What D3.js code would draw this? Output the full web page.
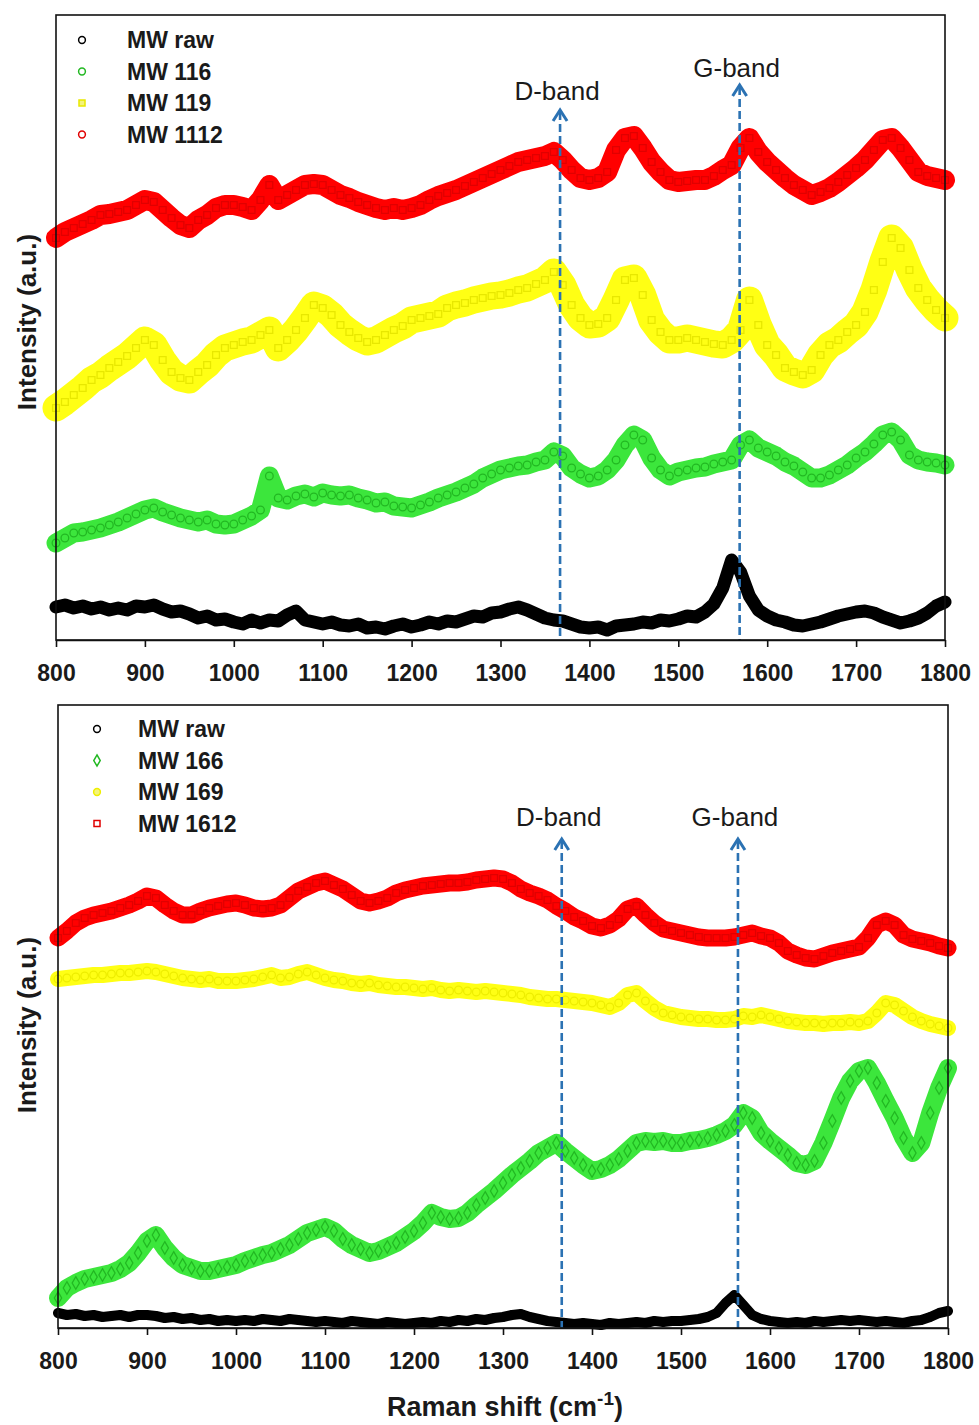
<!DOCTYPE html>
<html>
<head>
<meta charset="utf-8">
<script src="https://cdn.jsdelivr.net/npm/d3@7"></script>
<style>
  html, body { margin: 0; padding: 0; background: #fff; }
  svg { display: block; }
  text { font-family: "Liberation Sans", Arial, sans-serif; }
</style>
</head>
<body>
<svg id="chart" width="979" height="1425"></svg>
<script>
// Raman shift sampling grid (cm-1)
const ramanShift = [
  800, 810, 820, 830, 840, 850, 860, 870, 880, 890,
  900, 910, 920, 930, 940, 950, 960, 970, 980, 990,
  1000, 1010, 1020, 1030, 1040, 1050, 1060, 1070, 1080, 1090,
  1100, 1110, 1120, 1130, 1140, 1150, 1160, 1170, 1180, 1190,
  1200, 1210, 1220, 1230, 1240, 1250, 1260, 1270, 1280, 1290,
  1300, 1310, 1320, 1330, 1340, 1350, 1360, 1370, 1380, 1390,
  1400, 1410, 1420, 1430, 1440, 1450, 1460, 1470, 1480, 1490,
  1500, 1510, 1520, 1530, 1540, 1550, 1560, 1570, 1580, 1590,
  1600, 1610, 1620, 1630, 1640, 1650, 1660, 1670, 1680, 1690,
  1700, 1710, 1720, 1730, 1740, 1750, 1760, 1770, 1780, 1790,
  1800
];

const xTicks = [800, 900, 1000, 1100, 1200, 1300, 1400, 1500, 1600, 1700, 1800];

// ---- Upper panel: 11x series (stacked intensities, a.u.) ----
const mwRawA = [
  33, 35, 32, 34, 31, 33, 30, 32, 30, 34,
  33, 35, 31, 28, 29, 26, 22, 24, 20, 21,
  18, 16, 20, 17, 20, 19, 25, 29, 20, 18,
  16, 18, 15, 14, 16, 12, 13, 11, 14, 16,
  13, 15, 18, 16, 19, 18, 21, 24, 23, 27,
  28, 31, 33, 30, 26, 22, 20, 19, 16, 13,
  12, 13, 10, 14, 15, 16, 18, 17, 20, 19,
  21, 24, 23, 28, 36, 52, 80, 68, 44, 30,
  24, 20, 18, 15, 14, 16, 18, 21, 24, 26,
  28, 29, 27, 23, 20, 17, 19, 22, 27, 34,
  38
];
const mw116 = [
  97, 102, 107, 108, 110, 112, 115, 118, 122, 126,
  130, 132, 128, 125, 122, 120, 118, 120, 116, 115,
  116, 120, 124, 130, 164, 142, 140, 144, 146, 143,
  147, 145, 144, 145, 142, 140, 137, 138, 134, 133,
  132, 135, 138, 142, 145, 148, 152, 156, 162, 166,
  170, 172, 174, 175, 178, 180, 188, 184, 172, 166,
  162, 164, 170, 180, 195, 205, 200, 182, 170, 164,
  168, 170, 172, 173, 176, 178, 180, 195, 200, 192,
  188, 184, 178, 174, 168, 162, 162, 165, 170, 175,
  182, 188, 196, 205, 208, 200, 185, 180, 178, 177,
  175
];
const mw119 = [
  232, 238, 245, 252, 260, 265, 272, 278, 284, 292,
  300, 295, 280, 268, 262, 260, 268, 275, 285, 292,
  295, 298, 300, 305, 310, 292, 300, 310, 322, 335,
  332, 325, 315, 308, 302, 298, 300, 305, 310, 314,
  320, 322, 324, 326, 332, 335, 337, 340, 342, 344,
  345, 347, 350, 352, 356, 360, 368, 355, 335, 322,
  315, 316, 322, 340, 360, 362, 345, 320, 308, 300,
  300, 302, 300, 298, 296, 295, 300, 310, 340, 315,
  295, 285, 272, 268, 265, 270, 285, 295, 300, 308,
  315, 328, 350, 378, 402, 392, 370, 352, 340, 330,
  322
];
const mw1112 = [
  402, 408, 412, 416, 420, 425, 426, 428, 430, 435,
  440, 438, 430, 422, 415, 412, 420, 425, 432, 435,
  435, 433, 430, 440, 455, 440, 445, 450, 455, 456,
  455, 450, 445, 442, 438, 435, 432, 430, 432, 430,
  432, 435, 440, 444, 447, 450, 454, 458, 462, 466,
  470, 474, 478, 480, 482, 484, 488, 480, 470, 462,
  460, 462, 468, 490, 502, 504, 492, 478, 468, 460,
  458, 459, 460, 460, 464, 470, 475, 492, 502, 488,
  478, 470, 462, 455, 450, 445, 448, 452, 458, 465,
  472, 480, 490, 500, 502, 492, 480, 468, 464, 462,
  460
];

// ---- Lower panel: 16x series ----
const mwRawB = [
  15, 13, 14, 12, 13, 11, 12, 13, 11, 13,
  13, 12, 10, 11, 9, 10, 8, 9, 7, 8,
  7, 8, 7, 9, 8, 7, 9, 8, 7, 6,
  7, 6, 5, 7, 6, 5, 4, 6, 5, 4,
  5, 6, 5, 7, 6, 8, 7, 9, 8, 10,
  11, 13, 14, 11, 9, 7, 6, 5, 4, 5,
  4, 3, 5, 4, 5, 6, 5, 7, 6, 7,
  7, 8, 9, 11, 15, 25, 33, 23, 13, 9,
  7, 6, 5, 6, 5, 7, 6, 7, 8, 7,
  8, 7, 6, 7, 6, 5, 7, 8, 11, 15,
  17
];
const mw166 = [
  30, 40, 45, 49, 51, 53, 55, 59, 65, 75,
  87, 93, 80, 70, 63, 60, 57, 57, 59, 61,
  63, 67, 70, 73, 75, 79, 83, 89, 95, 98,
  101, 97, 89, 83, 79, 75, 77, 81, 85, 91,
  97, 105, 115, 111, 109, 110, 115, 123, 130, 137,
  145, 153, 160, 167, 175, 180, 185, 177, 170, 163,
  157, 159, 163, 169, 177, 185, 187, 186, 187, 185,
  185, 187, 188, 190, 193, 197, 203, 215, 210, 195,
  187, 180, 173, 165, 163, 167, 185, 207, 230, 247,
  257, 260, 245, 227, 210, 190, 175, 185, 215, 240,
  260
];
const mw169 = [
  349, 350, 351, 352, 353, 353, 354, 355, 355, 356,
  357, 356, 354, 352, 350, 349, 348, 349, 347, 347,
  347, 348, 349, 351, 353, 350, 351, 354, 356, 353,
  350, 348, 347, 345, 344, 345, 343, 342, 341, 341,
  340, 339, 340, 338, 337, 338, 337, 336, 337, 336,
  335, 334, 333, 331, 330, 329, 329, 328, 327, 326,
  325, 323, 321, 325, 333, 335, 327, 320, 315, 313,
  311, 310, 309, 309, 308, 308, 309, 312, 311, 313,
  311, 309, 307, 306, 305, 305, 304, 305, 305, 306,
  305, 307, 315, 325, 323, 317, 311, 307, 304, 302,
  300
];
const mw1612 = [
  390, 397, 405, 410, 413, 415, 417, 420, 423, 427,
  432, 430, 423, 417, 413, 413, 417, 420, 422, 424,
  425, 423, 420, 419, 420, 423, 430, 437, 441, 445,
  447, 443, 439, 433, 427, 425, 427, 430, 435, 438,
  440, 442, 443, 444, 445, 445, 446, 448, 449, 450,
  449, 445, 439, 435, 432, 428, 422, 417, 411, 407,
  402, 400, 403, 409, 419, 422, 413, 405, 399, 397,
  395, 393, 391, 390, 390, 390, 391, 393, 395, 392,
  390, 385, 377, 373, 370, 369, 372, 375, 377, 379,
  381, 390, 403, 407, 403, 393, 389, 387, 385, 382,
  380
];

const legendA = ["MW raw", "MW 116", "MW 119", "MW 1112"];
const legendB = ["MW raw", "MW 166", "MW 169", "MW 1612"];
const bandNames = ["D-band", "G-band"];
const bandPosA = [1367, 1569];
const bandPosB = [1366, 1564];
const arrowTipA = [530, 555];
const arrowTipB = [489, 489];

const svg = d3.select("#chart");

const panels = [
  {
    left: 56, right: 945, top: 15, bottom: 640, yMax: 625,
    legend: legendA, legendX: 82, textX: 127, legendY: 40,
    bands: bandPosA, tips: arrowTipA, bandLabelY: [100, 77],
    titleY: 322,
    series: [
      { values: mwRawA, fill: "#000000", edge: "#000000", symbol: d3.symbolCircle, band: 13, legendSym: d3.symbolCircle, legendFill: "none" },
      { values: mw116, fill: "#3ce63c", edge: "#22b822", symbol: d3.symbolCircle, band: 19, legendSym: d3.symbolCircle, legendFill: "none" },
      { values: mw119, fill: "#ffff14", edge: "#e8e800", symbol: d3.symbolSquare, band: 27, legendSym: d3.symbolSquare, legendFill: "#f4f47a" },
      { values: mw1112, fill: "#ff0000", edge: "#e00000", symbol: d3.symbolSquare, band: 20, legendSym: d3.symbolCircle, legendFill: "none" }
    ]
  },
  {
    left: 58, right: 948, top: 705, bottom: 1328, yMax: 623,
    legend: legendB, legendX: 97, textX: 138, legendY: 729,
    bands: bandPosB, tips: arrowTipB, bandLabelY: [826, 826],
    titleY: 1025,
    series: [
      { values: mwRawB, fill: "#000000", edge: "#000000", symbol: d3.symbolCircle, band: 10, legendSym: d3.symbolCircle, legendFill: "none" },
      { values: mw166, fill: "#3ce63c", edge: "#22b822", symbol: d3.symbolDiamond, band: 18, legendSym: d3.symbolDiamond, legendFill: "none" },
      { values: mw169, fill: "#ffff14", edge: "#eeee00", symbol: d3.symbolCircle, band: 16, legendSym: d3.symbolCircle, legendFill: "#f4f47a" },
      { values: mw1612, fill: "#ff0000", edge: "#e00000", symbol: d3.symbolSquare, band: 17, legendSym: d3.symbolSquare, legendFill: "none" }
    ]
  }
];

const blue = "#2b72b3";

panels.forEach((p, pi) => {
  const x = d3.scaleLinear().domain([800, 1800]).range([p.left, p.right]);
  const y = d3.scaleLinear().domain([0, p.yMax]).range([p.bottom, p.top]);
  const g = svg.append("g");

  // spectra: dense band plus hollow markers at each sample
  const line = d3.line().x((d, i) => x(ramanShift[i])).y(d => y(d));
  p.series.slice().reverse().forEach(s => {
    g.append("path")
      .datum(s.values)
      .attr("d", line)
      .attr("fill", "none")
      .attr("stroke", s.fill)
      .attr("stroke-width", s.band)
      .attr("stroke-linejoin", "round")
      .attr("stroke-linecap", "round");
    const sym = d3.symbol().type(s.symbol).size(46);
    g.append("g").selectAll("path")
      .data(s.values)
      .join("path")
      .attr("transform", (d, i) => `translate(${x(ramanShift[i])},${y(d)})`)
      .attr("d", sym)
      .attr("fill", "none")
      .attr("stroke", s.edge)
      .attr("stroke-width", 1.3);
  });

  // D / G band markers: dashed line with an open arrow head
  p.bands.forEach((b, bi) => {
    const bx = x(b);
    const tipY = y(p.tips[bi]);
    g.append("line")
      .attr("x1", bx).attr("x2", bx)
      .attr("y1", tipY + 2).attr("y2", p.bottom)
      .attr("stroke", blue)
      .attr("stroke-width", 2.6)
      .attr("stroke-dasharray", "8,4");
    g.append("path")
      .attr("d", `M${bx - 7},${tipY + 11}L${bx},${tipY}L${bx + 7},${tipY + 11}`)
      .attr("fill", "none")
      .attr("stroke", blue)
      .attr("stroke-width", 3)
      .attr("stroke-linejoin", "miter");
    g.append("text")
      .attr("x", bx - 3)
      .attr("y", p.bandLabelY[bi])
      .attr("text-anchor", "middle")
      .attr("font-size", 26)
      .attr("fill", "#1a1a1a")
      .text(bandNames[bi]);
  });

  // frame
  g.append("rect")
    .attr("x", p.left).attr("y", p.top)
    .attr("width", p.right - p.left).attr("height", p.bottom - p.top)
    .attr("fill", "none").attr("stroke", "#111").attr("stroke-width", 1.6);

  // x axis
  const axis = g.append("g")
    .attr("transform", `translate(0,${p.bottom})`)
    .call(d3.axisBottom(x).tickValues(xTicks).tickSize(7).tickSizeOuter(0).tickPadding(18).tickFormat(d3.format("d")));
  axis.select(".domain").attr("stroke", "#111").attr("stroke-width", 1.6);
  axis.selectAll(".tick line").attr("stroke", "#111").attr("stroke-width", 1.6);
  axis.selectAll(".tick text")
    .attr("font-size", 23)
    .attr("font-weight", "bold")
    .attr("fill", "#1a1a1a")
    .style("font-family", "'Liberation Sans', Arial, sans-serif");

  // y axis title
  g.append("text")
    .attr("transform", `translate(36,${p.titleY}) rotate(-90)`)
    .attr("text-anchor", "middle")
    .attr("font-size", 26)
    .attr("font-weight", "bold")
    .attr("fill", "#1a1a1a")
    .text("Intensity (a.u.)");

  // legend
  p.legend.forEach((name, li) => {
    const s = p.series[li];
    const ly = p.legendY + li * 31.5;
    g.append("path")
      .attr("transform", `translate(${p.legendX},${ly})`)
      .attr("d", d3.symbol().type(s.legendSym).size(36)())
      .attr("fill", s.legendFill)
      .attr("stroke", s.edge)
      .attr("stroke-width", 1.5);
    g.append("text")
      .attr("x", p.textX)
      .attr("y", ly + 8)
      .attr("font-size", 23)
      .attr("font-weight", "bold")
      .attr("fill", "#1a1a1a")
      .text(name);
  });
});

// x axis title
const title = svg.append("text")
  .attr("x", 505)
  .attr("y", 1416)
  .attr("text-anchor", "middle")
  .attr("font-size", 27)
  .attr("font-weight", "bold")
  .attr("fill", "#1a1a1a");
title.append("tspan").text("Raman shift (cm");
title.append("tspan").attr("dy", -11).attr("font-size", 19).text("-1");
title.append("tspan").attr("dy", 11).text(")");
</script>
</body>
</html>
